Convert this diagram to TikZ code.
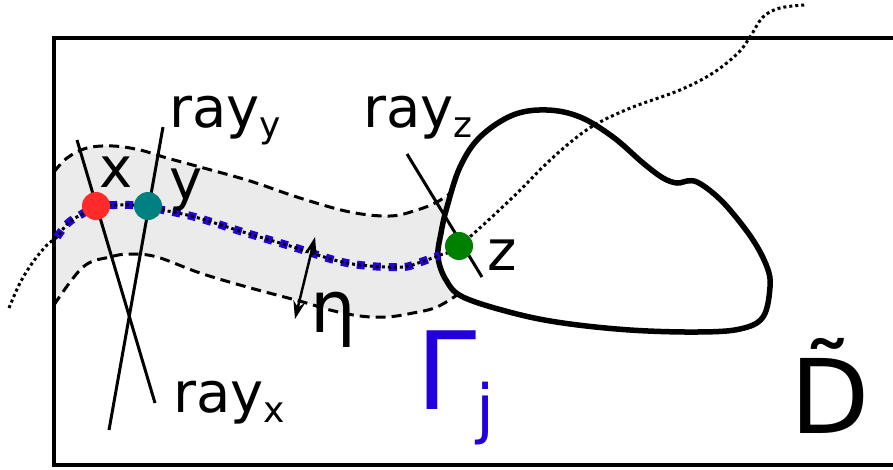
\documentclass[tikz,border=0pt]{standalone}
\usepackage{fontspec}
\setmainfont{DejaVu Sans}
\usetikzlibrary{arrows.meta}
\definecolor{bandgray}{HTML}{EBEBEB}
\definecolor{xred}{HTML}{FF2A2A}
\definecolor{yteal}{HTML}{008080}
\definecolor{zgreen}{HTML}{008000}
\definecolor{gblue}{HTML}{2200DD}
\newcommand\rsub[1]{\raisebox{-10pt}{\fontsize{36}{36}\selectfont #1}}
\tikzset{etatip/.tip={Stealth[length=18pt,width=12pt,inset=6pt]}}
\begin{document}
\begin{tikzpicture}[x=1pt,y=-1pt,
  lbl/.style={inner sep=0pt, font=\fontsize{56}{60}\selectfont},
  dotline/.style={line width=3pt, dash pattern=on 3pt off 3pt},
  bandedge/.style={line width=3pt, dash pattern=on 10pt off 6pt},
  raystyle/.style={line width=3pt},
  ptstyle/.style={circle, inner sep=0pt, minimum size=28pt}]
\useasboundingbox (0,0) rectangle (893,469);
\clip (0,0) rectangle (893,469);

% band
\fill[bandgray] plot[smooth, tension=0.6] coordinates {(54,172) (67,158) (87,148) (113,146) (140,150) (167,158) (200,167) (250,181) (300,198) (350,212) (390,216) (417,210) (437,202) (455,190)}
  -- plot[smooth, tension=0.6] coordinates {(460,293) (437,307) (413,313) (387,317) (360,316) (330,310) (303,302) (247,287) (200,273) (157,257) (130,254) (110,257) (83,267) (54,305)} -- cycle;
\draw[bandedge] plot[smooth, tension=0.6] coordinates {(54,172) (67,158) (87,148) (113,146) (140,150) (167,158) (200,167) (250,181) (300,198) (350,212) (390,216) (417,210) (437,202) (455,190)};
\draw[bandedge] plot[smooth, tension=0.6] coordinates {(54,305) (83,267) (110,257) (130,254) (157,257) (200,273) (247,287) (303,302) (330,310) (360,316) (387,317) (413,313) (437,307) (460,293)};

% closed domain
\draw[line width=5.5pt, fill=white] plot[smooth cycle, tension=0.6] coordinates {(438,257) (446,280) (463,297) (513,313) (563,323) (630,330) (697,332) (740,329) (763,317) (770,287) (767,267) (753,240) (730,210) (713,193) (697,182) (687,181) (677,183) (663,178) (643,163) (613,137) (580,117) (547,110) (513,115) (480,137) (460,167) (447,207) (441,233)};

% outer rectangle (right side beyond the page)
\draw[line width=4pt] (54,38) rectangle (920,465);

% Gamma (blue squares)
\draw[gblue, line width=8pt, dash pattern=on 8pt off 8pt] plot[smooth, tension=0.6] coordinates {(57,237) (68,223) (82,214) (96,206) (115,205) (130,205) (148,206) (163,210) (195,217) (243,232) (290,246) (338,261) (370,266) (403,267) (418,263) (440,255)};

% dotted curve
\draw[dotline] plot[smooth, tension=0.6] coordinates {(9,308) (20,283) (33,262) (47,245) (57,237) (68,223) (82,214) (96,206) (115,205) (130,205) (148,206) (163,210) (195,217) (243,232) (290,246) (338,261) (370,266) (403,267) (418,263) (440,255) (459,246) (510,200) (547,163) (577,137) (600,122) (633,107) (680,90) (713,73) (738,53) (750,37) (763,17) (780,8) (805,5)};

% rays
\coordinate (rx1) at (77,140); \coordinate (rx2) at (155,403);
\coordinate (ry1) at (163,127); \coordinate (ry2) at (109,430);
\coordinate (rz1) at (407,154); \coordinate (rz2) at (482,277);
\draw[raystyle] (rx1) -- (rx2);
\draw[raystyle] (ry1) -- (ry2);
\draw[raystyle] (rz1) -- (rz2);

% points
\node[ptstyle, fill=xred] (px) at (96,206) {};
\node[ptstyle, fill=yteal] (py) at (148,206) {};
\node[ptstyle, fill=zgreen] (pz) at (459,246) {};

% eta arrow
\coordinate (e1) at (295,319); \coordinate (e2) at (315,237);
\draw[line width=2.5pt, {etatip}-{etatip}] (e1) -- (e2);

% labels
\node[lbl, anchor=base] (lx) at (116,187) {x};
\node[lbl, anchor=base] (ly) at (186,199) {y};
\node[lbl, anchor=base] (lz) at (502,270) {z};
\node[lbl, anchor=base west] (lry) at (169,127) {ray\rsub{y}};
\node[lbl, anchor=base west] (lrz) at (363,127) {ray\rsub{z}};
\node[lbl, anchor=base west] (lrx) at (173,412) {ray\rsub{x}};
\node[inner sep=0pt, anchor=base, font=\fontsize{72}{74}\selectfont] (leta) at (333,332) {η};
\node[inner sep=0pt, anchor=base west, text=gblue, font=\fontsize{108}{110}\selectfont] (lgam) at (416,409) {Γ\raisebox{-22pt}{\fontsize{65}{65}\selectfont j}};
\node[inner sep=0pt, anchor=base, font=\fontsize{103}{105}\selectfont] (ld) at (830,433) {\~{D}};
\end{tikzpicture}
\end{document}
